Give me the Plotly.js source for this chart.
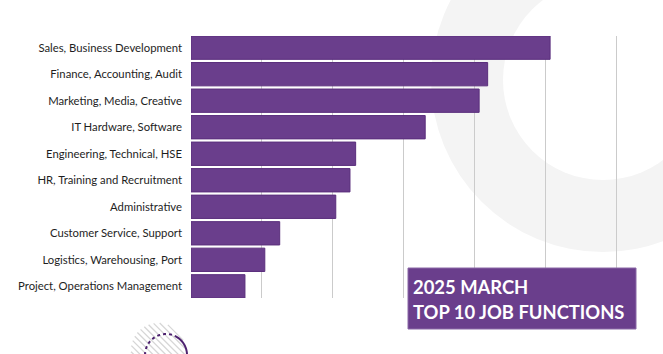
<!DOCTYPE html>
<html>
<head>
<meta charset="utf-8">
<script src="https://cdn.plot.ly/plotly-3.0.1.min.js"></script>
<style>html,body{margin:0;padding:0;background:#fff;}#chart{width:663px;height:354px;}</style>
</head>
<body>
<div id="chart"></div>
<script>
// ---- data (gridline step = 100 units) ----
const categories = [
  "Sales, Business Development",
  "Finance, Accounting, Audit",
  "Marketing, Media, Creative",
  "IT Hardware, Software",
  "Engineering, Technical, HSE",
  "HR, Training and Recruitment",
  "Administrative",
  "Customer Service, Support",
  "Logistics, Warehousing, Port",
  "Project, Operations Management"
];
const values = [506, 418, 406, 330, 232, 224, 204, 125, 104, 76];
const titleLines = ["2025 MARCH", "TOP 10 JOB FUNCTIONS"];

// ---- layout geometry ----
const Wfig = 663, Hfig = 354;
const M = {l: 191, r: 32, t: 36, b: 56};
const PW = Wfig - M.l - M.r, PH = Hfig - M.t - M.b;
const px = (x) => (x - M.l) / PW;
const py = (y) => (Hfig - M.b - y) / PH;
const purple = "#6a3e8c";

const shapes = [];
// big light ring top-right
shapes.push({type: "circle", xref: "paper", yref: "paper", layer: "below",
  x0: px(431), x1: px(775), y0: py(252), y1: py(-92),
  fillcolor: "#f4f4f4", line: {width: 0}});
shapes.push({type: "circle", xref: "paper", yref: "paper", layer: "below",
  x0: px(503), x1: px(703), y0: py(180), y1: py(-20),
  fillcolor: "#ffffff", line: {width: 0}});

// hatched circle bottom-left
(function () {
  const cx = 158, cy = 350, r = 27, step = 4.5;
  for (let s = -r + step / 2; s < r; s += step) {
    const h = Math.sqrt(r * r - s * s);
    const ux = Math.SQRT1_2, uy = Math.SQRT1_2;
    const vx = -Math.SQRT1_2, vy = Math.SQRT1_2;
    const ax = cx + s * vx - h * ux, ay = cy + s * vy - h * uy;
    const bx = cx + s * vx + h * ux, by = cy + s * vy + h * uy;
    shapes.push({type: "line", xref: "paper", yref: "paper", layer: "below",
      x0: px(ax), y0: py(ay), x1: px(bx), y1: py(by),
      line: {color: "#d6d6d6", width: 1.3}});
  }
})();

// purple circle outline (dotted upper-left, solid right)
function arcPath(cx, cy, r, a0, a1) {
  let d = "";
  const n = 40;
  for (let i = 0; i <= n; i++) {
    const a = (a0 + (a1 - a0) * i / n) * Math.PI / 180;
    const x = cx + r * Math.cos(a), y = cy - r * Math.sin(a);
    d += (i === 0 ? "M" : "L") + px(x).toFixed(5) + "," + py(y).toFixed(5) + " ";
  }
  return d;
}
shapes.push({type: "path", xref: "paper", yref: "paper", layer: "below",
  path: arcPath(166, 355, 21, 180, 65), line: {color: "#4e2370", width: 2, dash: "dot"}});
shapes.push({type: "path", xref: "paper", yref: "paper", layer: "below",
  path: arcPath(166, 355, 21, 65, -90), line: {color: "#4e2370", width: 2}});

// title box
shapes.push({type: "rect", xref: "paper", yref: "paper", layer: "above",
  x0: px(408), x1: px(636), y0: py(329), y1: py(268),
  fillcolor: purple, line: {color: "#8a68a6", width: 1}});

const annotations = [
  {xref: "paper", yref: "paper", x: px(411), y: py(286.5), xanchor: "left", yanchor: "middle",
   text: "<b>" + titleLines[0] + "</b>", showarrow: false,
   font: {family: "Lato, sans-serif", size: 18.4, color: "#ffffff"}},
  {xref: "paper", yref: "paper", x: px(411), y: py(311.5), xanchor: "left", yanchor: "middle",
   text: "<b>" + titleLines[1] + "</b>", showarrow: false,
   font: {family: "Lato, sans-serif", size: 18.4, color: "#ffffff"}}
];

const trace = {
  type: "bar", orientation: "h",
  y: categories, x: values,
  marker: {color: purple, line: {color: "#5a2e7c", width: 1}},
  hoverinfo: "x+y"
};

const layout = {
  width: Wfig, height: Hfig,
  margin: M,
  paper_bgcolor: "#ffffff", plot_bgcolor: "rgba(0,0,0,0)",
  showlegend: false,
  bargap: 0.12,
  xaxis: {range: [0, 620], dtick: 100, tick0: 0, showgrid: true, gridcolor: "#cbcbcb", gridwidth: 1,
    zeroline: false, showticklabels: false, showline: false, ticks: "", fixedrange: true},
  yaxis: {type: "category", range: [9.44, -0.44], showgrid: false, zeroline: false, showline: false,
    ticks: "", ticklabelstandoff: 8,
    tickfont: {family: "Lato, sans-serif", size: 11.3, color: "#1e1e1e"}},
  shapes: shapes,
  annotations: annotations
};

Plotly.newPlot("chart", [trace], layout, {displayModeBar: false, staticPlot: true});
</script>
</body>
</html>
